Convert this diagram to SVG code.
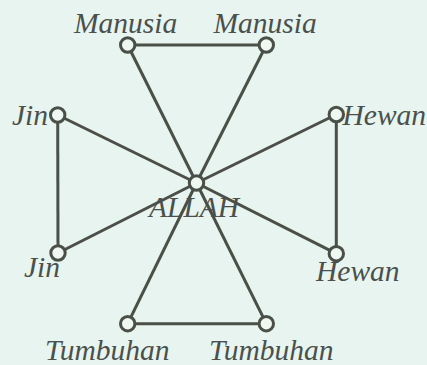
<svg xmlns="http://www.w3.org/2000/svg" width="427" height="365" viewBox="0 0 427 365">
<style>
.e{stroke:#4a4f48;stroke-width:3;fill:none}
.n{fill:#eef7f2;stroke:#4a4f48;stroke-width:3}
.t{font-family:"Liberation Serif","Times New Roman",serif;font-style:italic;font-size:29.5px;fill:#4b504c}
</style>
<rect width="427" height="365" fill="#e7f4ef"/>
<g id="connectors">
<line class="e" x1="127.7" y1="45" x2="266.3" y2="45"/>
<line class="e" x1="127.7" y1="323.7" x2="266.3" y2="323.7"/>
<line class="e" x1="57.7" y1="115" x2="58" y2="253"/>
<line class="e" x1="336.3" y1="114.5" x2="336.3" y2="253.7"/>
<line class="e" x1="196.5" y1="183" x2="127.7" y2="45"/>
<line class="e" x1="196.5" y1="183" x2="266.3" y2="45"/>
<line class="e" x1="196.5" y1="183" x2="57.7" y2="115"/>
<line class="e" x1="196.5" y1="183" x2="336.3" y2="114.5"/>
<line class="e" x1="196.5" y1="183" x2="58" y2="253"/>
<line class="e" x1="196.5" y1="183" x2="336.3" y2="253.7"/>
<line class="e" x1="196.5" y1="183" x2="127.7" y2="323.7"/>
<line class="e" x1="196.5" y1="183" x2="266.3" y2="323.7"/>
</g>
<g id="allah"><circle class="n" cx="196.5" cy="183" r="7.2"/><text class="t" x="149" y="217">ALLAH</text></g>
<g id="manusia1"><circle class="n" cx="127.7" cy="45" r="7.2"/><text class="t" x="74" y="33">Manusia</text></g>
<g id="manusia2"><circle class="n" cx="266.3" cy="45" r="7.2"/><text class="t" x="213.5" y="33">Manusia</text></g>
<g id="jin1"><circle class="n" cx="57.7" cy="115" r="7.2"/><text class="t" x="12" y="125">Jin</text></g>
<g id="hewan1"><circle class="n" cx="336.3" cy="114.5" r="7.2"/><text class="t" x="342.5" y="125">Hewan</text></g>
<g id="jin2"><circle class="n" cx="58" cy="253" r="7.2"/><text class="t" x="24" y="277">Jin</text></g>
<g id="hewan2"><circle class="n" cx="336.3" cy="253.7" r="7.2"/><text class="t" x="316" y="281">Hewan</text></g>
<g id="tumbuhan1"><circle class="n" cx="127.7" cy="323.7" r="7.2"/><text class="t" x="45" y="360">Tumbuhan</text></g>
<g id="tumbuhan2"><circle class="n" cx="266.3" cy="323.7" r="7.2"/><text class="t" x="209" y="360">Tumbuhan</text></g>
</svg>
